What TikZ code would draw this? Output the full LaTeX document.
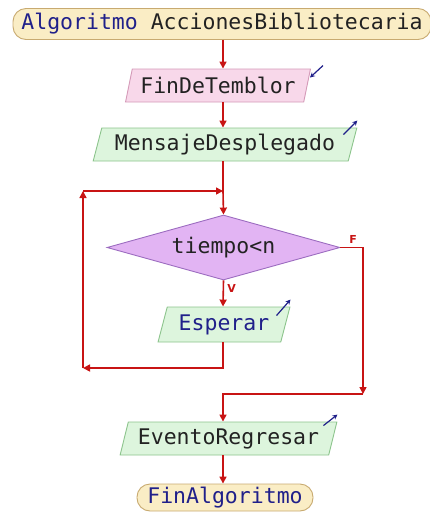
\documentclass[tikz,border=0pt]{standalone}
\usepackage{fontspec}
\setmonofont{DejaVu Sans Mono}
\setsansfont{DejaVu Sans}
\usetikzlibrary{shapes.geometric,arrows.meta,calc}
\definecolor{rojo}{HTML}{C81414}
\definecolor{azul}{HTML}{20208A}
\definecolor{oscuro}{HTML}{222222}
\definecolor{crema}{HTML}{FAEDC5}
\definecolor{cremaborde}{HTML}{C8AA70}
\definecolor{rosa}{HTML}{F8D8EA}
\definecolor{rosaborde}{HTML}{D49AB8}
\definecolor{verde}{HTML}{DDF5DD}
\definecolor{verdeborde}{HTML}{8CC48C}
\definecolor{lila}{HTML}{E2B4F3}
\definecolor{lilaborde}{HTML}{9C6CC0}
\begin{document}
\begin{tikzpicture}[
      x=1pt, y=-1pt,
      font=\ttfamily\fontsize{21.5}{24}\selectfont, text=oscuro,
      terminal/.style={draw=cremaborde, fill=crema, rounded corners=13pt, inner sep=0pt, line width=0.9pt},
      paralelo/.style={trapezium, trapezium left angle=70, trapezium right angle=110, trapezium stretches=true, inner sep=0pt, line width=0.9pt},
      entrada/.style={paralelo, draw=rosaborde, fill=rosa},
      salida/.style={paralelo, draw=verdeborde, fill=verde},
      condicion/.style={diamond, aspect=3.6, draw=lilaborde, fill=lila, inner sep=0pt, line width=0.9pt, minimum width=233pt, minimum height=65pt},
      flecha/.style={-{Triangle[length=7pt,width=7pt]}, rojo, line width=1.6pt},
      linea/.style={rojo, line width=1.6pt},
      icono/.style={-{Stealth[length=5pt,width=5pt]}, azul, line width=1.2pt},
      etiqueta/.style={rojo, font=\sffamily\bfseries\fontsize{11}{13}\selectfont}
    ]
      \useasboundingbox (0,0) rectangle (430,512);
      \coordinate (eje) at (223,0);
      \node[terminal, minimum width=418pt, minimum height=31pt] (inicio) at (222,24) {\textcolor{azul}{Algoritmo} AccionesBibliotecaria};
      \node[entrada, minimum width=185pt, minimum height=33pt] (temblor) at (218,85.5) {FinDeTemblor};
      \node[salida, minimum width=264pt, minimum height=33pt] (mensaje) at (225,144.5) {MensajeDesplegado};
      \node[condicion] (cond) at (223.5,247.5) {tiempo<n};
      \node[salida, minimum width=132pt, minimum height=35pt, text=azul] (esperar) at (224,324.5) {Esperar};
      \node[salida, minimum width=217pt, minimum height=33pt] (evento) at (228.5,438.5) {EventoRegresar};
      \node[terminal, minimum width=176pt, minimum height=27pt, text=azul] (fin) at (225,497.5) {FinAlgoritmo};
      % puntos del bucle
      \coordinate (junta) at (223,191);
      \coordinate (ret1) at (83,368);
      \coordinate (ret2) at (83,191);
      \coordinate (codo) at (363,394);
      % flujo principal
      \draw[flecha] (inicio.south -| eje) -- (temblor.north -| eje);
      \draw[flecha] (temblor.south -| eje) -- (mensaje.north -| eje);
      \draw[linea] (mensaje.south -| eje) -- (junta);
      \draw[flecha] (junta) -- (cond.north);
      \draw[flecha] (cond.south) -- node[etiqueta, right, pos=0.3] {V} (esperar.north -| eje);
      \draw[flecha] (esperar.south -| eje) |- (ret1);
      \draw[flecha] (ret1) -- (ret2);
      \draw[flecha] (ret2) -- (junta);
      \draw[flecha] (cond.east) -| node[etiqueta, above left, pos=0.5, xshift=-2pt] {F} (codo);
      \draw[flecha] (codo) -| (evento.north -| eje);
      \draw[flecha] (evento.south -| eje) -- (fin.north -| eje);
      % iconos de lectura y escritura
      \draw[icono] ($(temblor.top right corner)+(12,-3)$) -- ($(temblor.top right corner)+(-1,9)$);
      \draw[icono] ($(mensaje.top right corner)+(-14,7)$) -- ($(mensaje.top right corner)+(0,-7)$);
      \draw[icono] ($(esperar.top right corner)+(-14,9)$) -- ($(esperar.top right corner)+(0,-7)$);
      \draw[icono] ($(evento.top right corner)+(-14,4)$) -- ($(evento.top right corner)+(0,-7)$);
    \end{tikzpicture}
\end{document}
